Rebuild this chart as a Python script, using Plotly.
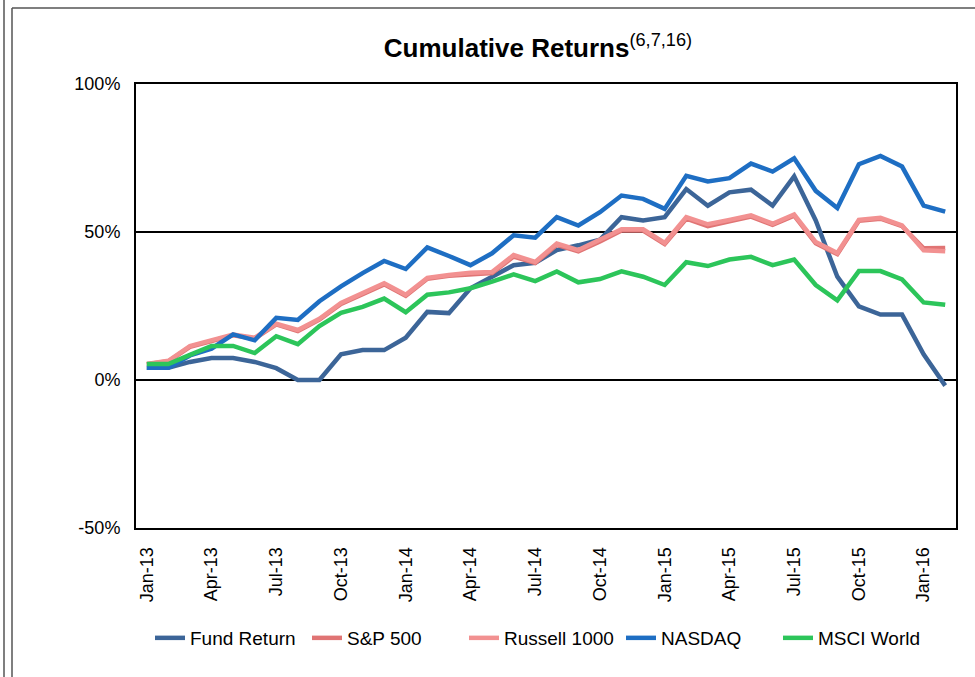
import plotly.graph_objects as go

months = ["Jan-13","Feb-13","Mar-13","Apr-13","May-13","Jun-13","Jul-13","Aug-13","Sep-13","Oct-13","Nov-13","Dec-13",
          "Jan-14","Feb-14","Mar-14","Apr-14","May-14","Jun-14","Jul-14","Aug-14","Sep-14","Oct-14","Nov-14","Dec-14",
          "Jan-15","Feb-15","Mar-15","Apr-15","May-15","Jun-15","Jul-15","Aug-15","Sep-15","Oct-15","Nov-15","Dec-15",
          "Jan-16","Feb-16"]

fund_return = [4.1, 4.1, 6.1, 7.4, 7.4, 6.1, 4.0, 0.0, 0.0, 8.7, 10.1, 10.1,
               14.3, 23.0, 22.6, 31.0, 34.9, 38.8, 39.6, 43.9, 45.5, 47.4, 55.0, 53.9,
               55.0, 64.5, 58.9, 63.4, 64.3, 58.9, 68.8, 53.9, 34.9, 24.9, 22.1, 22.1,
               8.7, -1.9]
sp500 = [5.3, 6.3, 11.2, 13.2, 15.1, 14.0, 18.8, 16.5, 20.4, 25.7, 29.0, 32.3,
         28.4, 34.2, 35.2, 35.8, 36.1, 41.7, 39.5, 45.7, 43.5, 46.8, 50.5, 50.5,
         45.9, 54.5, 52.0, 53.6, 55.2, 52.4, 55.5, 46.2, 42.5, 53.8, 54.5, 52.0,
         44.5, 44.6]
russell1000 = [5.4, 6.5, 11.5, 13.4, 15.4, 14.3, 19.0, 16.9, 20.7, 26.0, 29.3, 32.7,
               28.8, 34.5, 35.5, 36.2, 36.5, 42.2, 39.9, 46.1, 43.9, 47.2, 50.9, 50.9,
               46.3, 55.0, 52.6, 54.1, 55.6, 52.8, 55.9, 46.6, 42.9, 54.1, 54.8, 52.2,
               43.8, 43.5]
nasdaq = [4.1, 4.1, 8.3, 10.6, 15.4, 13.4, 21.0, 20.3, 26.6, 31.6, 36.1, 40.2,
          37.5, 44.8, 41.9, 38.8, 42.8, 48.9, 48.1, 55.0, 52.2, 56.7, 62.3, 61.2,
          57.8, 69.0, 67.1, 68.2, 73.1, 70.4, 74.9, 63.9, 58.1, 72.9, 75.7, 72.1,
          58.9, 56.9]
msci_world = [5.4, 5.4, 8.5, 11.5, 11.5, 9.1, 14.8, 12.1, 18.2, 22.7, 24.7, 27.5,
              22.9, 28.8, 29.6, 31.0, 33.2, 35.7, 33.4, 36.7, 33.0, 34.1, 36.7, 34.9,
              32.1, 39.8, 38.5, 40.7, 41.6, 38.8, 40.7, 32.1, 26.9, 36.8, 36.8, 34.0,
              26.2, 25.4]

tick_labels = months[::3]
y_ticks = [-50, 0, 50, 100]
y_tick_labels = ["-50%", "0%", "50%", "100%"]

series = [
    ("Fund Return", fund_return, "#3C6598"),
    ("S&P 500", sp500, "#E07474"),
    ("Russell 1000", russell1000, "#F29191"),
    ("NASDAQ", nasdaq, "#1E6EC3"),
    ("MSCI World", msci_world, "#2CC55A"),
]

FONT = "Liberation Sans, Arial, sans-serif"

fig = go.Figure()
for name, vals, color in series:
    fig.add_trace(go.Scatter(x=list(range(len(months))), y=vals, name=name, mode="lines",
                             line=dict(color=color, width=4.5)))

W, H = 975, 677
L, R, T, B = 136, 19, 84, 149
pw, ph = W - L - R, H - T - B

def px_x(px):
    return (px - L) / pw

def px_y(py):
    return (H - B - py) / ph

fig.update_layout(
    width=W, height=H,
    margin=dict(l=L, r=R, t=T, b=B, autoexpand=False),
    paper_bgcolor="white", plot_bgcolor="white",
    font=dict(family=FONT, size=18, color="black"),
    title=dict(text="<b>Cumulative Returns</b><sup>(6,7,16)</sup>",
               font=dict(family=FONT, size=26, color="black"),
               x=px_x(538), xref="paper", xanchor="center",
               y=1 - 48 / H, yref="container", yanchor="middle"),
    xaxis=dict(range=[-0.5, len(months) - 0.5], tickmode="array",
               tickvals=list(range(0, len(months), 3)), ticktext=tick_labels,
               tickangle=-90, showgrid=False, zeroline=False, automargin=False,
               showline=True, linecolor="black", linewidth=2, mirror=True,
               ticks="", ticklabelstandoff=10, tickfont=dict(size=18)),
    yaxis=dict(range=[-50, 100], tickmode="array", tickvals=y_ticks, ticktext=y_tick_labels,
               showgrid=True, gridcolor="black", gridwidth=1.5, zeroline=False, automargin=False,
               showline=True, linecolor="black", linewidth=2, mirror=True,
               ticks="", ticklabelstandoff=10, tickfont=dict(size=18)),
    showlegend=True,
    legend=dict(orientation="h", x=150 / W, xref="container", xanchor="left",
                y=1 - 638 / H, yref="container", yanchor="middle", font=dict(size=19),
                entrywidth=112, entrywidthmode="pixels",
                bgcolor="rgba(0,0,0,0)", tracegroupgap=0),
    shapes=[
        dict(type="line", xref="paper", yref="paper", x0=px_x(4), x1=px_x(4),
             y0=px_y(677), y1=px_y(0), line=dict(color="#555555", width=1.5)),
        dict(type="line", xref="paper", yref="paper", x0=px_x(12), x1=px_x(12),
             y0=px_y(677), y1=px_y(8), line=dict(color="#555555", width=1.5)),
        dict(type="line", xref="paper", yref="paper", x0=px_x(12), x1=px_x(980),
             y0=px_y(8), y1=px_y(8), line=dict(color="#555555", width=1.5)),
    ],
)

fig.write_html("out.html", config={"displayModeBar": False},
               post_script="document.body.style.margin='0px';document.body.style.overflow='hidden';")
